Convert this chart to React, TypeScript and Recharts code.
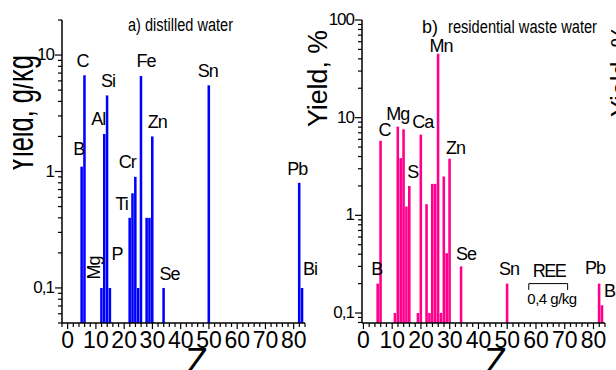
import React from 'react';
import { BarChart, Bar, XAxis, YAxis, LabelList, ReferenceLine } from 'recharts';

const FONT = '"Liberation Sans", Arial, Helvetica, sans-serif';

// ---------- panel a) distilled water : yield, g/kg ----------
const aZ = [5, 6, 12, 13, 14, 15, 22, 23, 24, 25, 26, 28, 29, 30, 34, 50, 82, 83];
const aElement = ['B', 'C', 'Mg', 'Al', 'Si', 'P', 'Ti', 'V', 'Cr', 'Mn', 'Fe', 'Ni', 'Cu', 'Zn', 'Se', 'Sn', 'Pb', 'Bi'];
const aYield = [1.1, 6.7, 0.1, 2.1, 4.5, 0.1, 0.4, 0.65, 0.9, 0.1, 6.6, 0.4, 0.4, 2.0, 0.1, 5.5, 0.8, 0.1];
const aShown = ['B', 'C', 'Mg', 'Al', 'Si', 'P', 'Ti', 'Cr', 'Fe', 'Zn', 'Se', 'Sn', 'Pb', 'Bi'];

// ---------- panel b) residential waste water : yield, % ----------
const bZ = [5, 6, 11, 12, 13, 14, 15, 16, 19, 20, 22, 23, 24, 25, 26, 27, 28, 29, 30, 34, 50, 82, 83];
const bElement = ['B', 'C', 'Na', 'Mg', 'Al', 'Si', 'P', 'S', 'K', 'Ca', 'Ti', 'V', 'Cr', 'Mn', 'Mn', 'Co', 'Ni', 'Cu', 'Zn', 'Se', 'Sn', 'Pb', 'Bi'];
const bYield = [0.2, 5.8, 0.1, 8.1, 3.85, 7.6, 1.23, 2.0, 0.1, 6.7, 1.3, 0.1, 2.1, 2.1, 45, 0.1, 2.5, 0.41, 3.8, 0.3, 0.2, 0.2, 0.12];
const bShownIdx = [0, 1, 3, 7, 9, 14, 18, 19, 20, 21, 22];

// REE bracket (Z range) at the REE yield level
const reeRange = [57.5, 71];
const reeLevel = 0.2;
const reeTick = 0.172;

// ---------- ticks ----------
const zTicks = [-2, 0, 2, 4, 6, 8, 10, 12, 14, 16, 18, 20, 22, 24, 26, 28, 30, 32, 34, 36, 38, 40, 42, 44, 46, 48, 50, 52, 54, 56, 58, 60, 62, 64, 66, 68, 70, 72, 74, 76, 78, 80, 82, 84];
const zLabels = [0, 10, 20, 30, 40, 50, 60, 70, 80];
const aYTicks = [0.05, 0.06, 0.07, 0.08, 0.09, 0.1, 0.2, 0.3, 0.4, 0.5, 0.6, 0.7, 0.8, 0.9, 1, 2, 3, 4, 5, 6, 7, 8, 9, 10, 20];
const bYTicks = [0.08, 0.09, 0.1, 0.2, 0.3, 0.4, 0.5, 0.6, 0.7, 0.8, 0.9, 1, 2, 3, 4, 5, 6, 7, 8, 9, 10, 20, 30, 40, 50, 60, 70, 80, 90, 100];
const yTickText: Record<string, string> = { '0.1': '0,1', '1': '1', '10': '10', '100': '100' };

const aData = aZ.map((z, i) => ({ z, el: aElement[i], v: aYield[i], lab: aShown.includes(aElement[i]) ? aElement[i] : '' }));
const bData = bZ.map((z, i) => ({ z, el: bElement[i], v: bYield[i], lab: bShownIdx.includes(i) ? bElement[i] : '' }));

// label nudges (style only)
type Nudge = { dx: number; dy: number; rot?: boolean };
const aNudge: Record<string, Nudge> = {
  B: { dx: -3, dy: -12 }, C: { dx: -2, dy: -8 }, Mg: { dx: -1, dy: -20, rot: true }, Al: { dx: -6, dy: -9 },
  Si: { dx: 1, dy: -8 }, P: { dx: 7, dy: -28 }, Ti: { dx: -8, dy: -8 }, Cr: { dx: -8, dy: -9 },
  Fe: { dx: 5, dy: -9 }, Zn: { dx: 5, dy: -8 }, Se: { dx: 6, dy: -8 }, Sn: { dx: -1, dy: -8 },
  Pb: { dx: -2, dy: -8 }, Bi: { dx: 8, dy: -13 },
};
const bNudge: Record<string, Nudge> = {
  B: { dx: -1, dy: -9 }, C: { dx: 4, dy: -5 }, Mg: { dx: 0, dy: -7 }, S: { dx: 3.5, dy: -8 },
  Ca: { dx: 2, dy: -7 }, Mn: { dx: 3, dy: -2 }, Zn: { dx: 6, dy: -5 }, Se: { dx: 5, dy: -6 },
  Sn: { dx: 2, dy: -9 }, Pb: { dx: -4, dy: -10 }, Bi: { dx: 9, dy: -8 },
};

const makeLabel = (nudge: Record<string, Nudge>) => (p: any) => {
  const text = p.value;
  if (!text) return null;
  const vb = p.viewBox || {};
  const x = Number(p.x ?? vb.x);
  const y = Number(p.y ?? vb.y);
  const w = Number(p.width ?? vb.width);
  const o = nudge[text] || { dx: 0, dy: -8 };
  const cx = x + w / 2 + o.dx;
  const by = y + o.dy;
  if (o.rot) {
    return (
      <text transform={`translate(${cx},${by}) rotate(-90)`} textAnchor="middle" fontSize={18} letterSpacing={-1} fontFamily={FONT} fill="#000">{text}</text>
    );
  }
  return (
    <text x={cx} y={by} textAnchor="middle" fontSize={18} letterSpacing={-1} fontFamily={FONT} fill="#000">{text}</text>
  );
};

const XTick = (p: any) => {
  const { x, y, payload } = p;
  const v = payload.value;
  const lab = zLabels.includes(v);
  return (
    <g>
      <line x1={x} x2={x} y1={y} y2={y + (lab ? 6 : 4)} stroke="#000" strokeWidth={1.2} />
      {lab && (
        <text x={x} y={y + 25} textAnchor="middle" fontSize={23} fontFamily={FONT} fill="#000">{v}</text>
      )}
    </g>
  );
};

const YTick = (p: any) => {
  const { x, y, payload } = p;
  const lab = yTickText[String(payload.value)];
  return (
    <g>
      <line x1={x - (lab ? 7 : 4)} x2={x} y1={y} y2={y} stroke="#000" strokeWidth={1.2} />
      {lab && (
        <text x={x - 8} y={y + 5} textAnchor="end" fontSize={17} letterSpacing={-1} fontFamily={FONT} fill="#000">{lab}</text>
      )}
    </g>
  );
};

const zTitle = (cx: number) => () => (
  <text x={cx} y={374} textAnchor="middle" fontSize={36} fontFamily={FONT} fill="#000">Z</text>
);

const aYTitle = () => (
  <g>
    <defs>
      <clipPath id="aYTitleClip">
        <rect x={13} y={0} width={60} height={370} />
      </clipPath>
    </defs>
    <g clipPath="url(#aYTitleClip)">
      <text transform="translate(33,114) rotate(-90)" textAnchor="middle" fontSize={37} textLength={118} lengthAdjust="spacingAndGlyphs" fontFamily={FONT} fill="#000">Yield, g/kg</text>
    </g>
  </g>
);

const bYTitle = () => (
  <text transform="translate(27,78.5) rotate(-90)" textAnchor="middle" fontSize={28} textLength={97} lengthAdjust="spacingAndGlyphs" fontFamily={FONT} fill="#000">Yield, %</text>
);

const axisLine = { stroke: '#000', strokeWidth: 1.5 };

export default function App() {
  return (
    <div style={{ position: 'absolute', left: 0, top: 0, width: 616, height: 370, background: '#fff', overflow: 'hidden' }}>
      <div style={{ position: 'absolute', left: 0, top: 0 }}>
        <BarChart width={330} height={370} data={aData} margin={{ top: 20, right: 25, bottom: 0, left: 0 }}>
          <XAxis dataKey="z" type="number" domain={[-2, 84]} ticks={zTicks} interval={0} tick={<XTick />} tickLine={false} tickSize={0} tickMargin={0} axisLine={axisLine} height={47} label={zTitle(197)} />
          <YAxis type="number" scale="log" domain={[0.05, 20]} ticks={aYTicks} interval={0} tick={<YTick />} tickLine={false} tickSize={0} tickMargin={0} axisLine={axisLine} width={62} label={aYTitle} />
          <Bar dataKey="v" fill="#0000FF" barSize={2.9} isAnimationActive={false}>
            <LabelList dataKey="lab" content={makeLabel(aNudge)} />
          </Bar>
        </BarChart>
      </div>
      <div style={{ position: 'absolute', left: 300, top: 0 }}>
        <BarChart width={316} height={370} data={bData} margin={{ top: 20, right: 11, bottom: 0, left: 0 }}>
          <XAxis dataKey="z" type="number" domain={[-0.5, 84]} ticks={zTicks.filter((t) => t >= 0)} interval={0} tick={<XTick />} tickLine={false} tickSize={0} tickMargin={0} axisLine={axisLine} height={47} label={zTitle(196)} />
          <YAxis type="number" scale="log" domain={[0.079, 100]} ticks={bYTicks} interval={0} tick={<YTick />} tickLine={false} tickSize={0} tickMargin={0} axisLine={axisLine} width={62} label={bYTitle} />
          <Bar dataKey="v" fill="#FF008C" barSize={2.9} isAnimationActive={false}>
            <LabelList dataKey="lab" content={makeLabel(bNudge)} />
          </Bar>
          <ReferenceLine segment={[{ x: reeRange[0], y: reeLevel }, { x: reeRange[1], y: reeLevel }]} stroke="#000" strokeWidth={1} ifOverflow="visible" />
          <ReferenceLine segment={[{ x: reeRange[0], y: reeLevel }, { x: reeRange[0], y: reeTick }]} stroke="#000" strokeWidth={1} ifOverflow="visible" />
          <ReferenceLine segment={[{ x: reeRange[1], y: reeLevel }, { x: reeRange[1], y: reeTick }]} stroke="#000" strokeWidth={1} ifOverflow="visible" />
        </BarChart>
      </div>
      <svg width={616} height={370} style={{ position: 'absolute', left: 0, top: 0, pointerEvents: 'none' }}>
        <text x={128} y={31} fontSize={18} textLength={105} lengthAdjust="spacingAndGlyphs" fontFamily={FONT} fill="#000">a) distilled water</text>
        <text x={422} y={33} fontSize={18} fontFamily={FONT} fill="#000">b)</text>
        <text x={448} y={33} fontSize={18} textLength={149} lengthAdjust="spacingAndGlyphs" fontFamily={FONT} fill="#000">residential waste water</text>
        <text x={549} y={277} textAnchor="middle" fontSize={18} letterSpacing={-1.5} fontFamily={FONT} fill="#000">REE</text>
        <text x={552} y={304} textAnchor="middle" fontSize={15} letterSpacing={-0.5} fontFamily={FONT} fill="#000">0,4 g/kg</text>
        <text transform="translate(630,71) rotate(-90)" textAnchor="middle" fontSize={28} textLength={92} lengthAdjust="spacingAndGlyphs" fontFamily={FONT} fill="#000">Yield, %</text>
      </svg>
    </div>
  );
}
